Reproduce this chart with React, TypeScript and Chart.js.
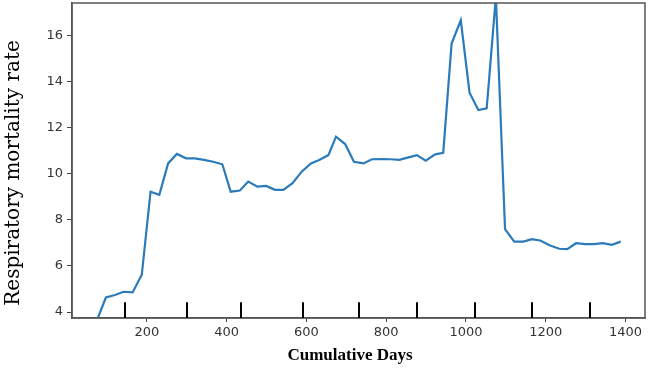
import React, { useEffect, useRef } from "react";
import { Chart, registerables } from "chart.js";

Chart.register(...registerables);

const days = [
  74, 97, 120, 141, 164, 187, 209, 231, 253, 275, 298, 320, 343, 366, 389, 410,
  433, 454, 477, 499, 521, 542, 565, 588, 611, 632, 655, 674, 697, 719, 743, 764,
  789, 811, 833, 856, 877, 899, 923, 943, 964, 987, 1009, 1031, 1052, 1075, 1098,
  1121, 1144, 1165, 1186, 1211, 1234, 1254, 1276, 1299, 1321, 1343, 1366, 1388,
];
const rate = [
  3.62, 4.63, 4.74, 4.88, 4.85, 5.62, 9.23, 9.09, 10.46, 10.87, 10.68, 10.68,
  10.61, 10.53, 10.42, 9.23, 9.28, 9.67, 9.45, 9.48, 9.31, 9.31, 9.6, 10.1,
  10.46, 10.61, 10.82, 11.62, 11.3, 10.53, 10.46, 10.64, 10.65, 10.64, 10.61,
  10.72, 10.82, 10.58, 10.85, 10.92, 15.67, 16.68, 13.53, 12.78, 12.85, 17.7,
  7.6, 7.06, 7.06, 7.17, 7.11, 6.89, 6.75, 6.73, 6.99, 6.95, 6.95, 6.99, 6.92,
  7.06,
];
const deciles = [144, 301, 437, 591, 733, 877, 1023, 1165, 1310];
const xTicks = [200, 400, 600, 800, 1000, 1200, 1400];
const yTicks = [4, 6, 8, 10, 12, 14, 16];

const xTitle = "Cumulative Days";
const yTitle = "Respiratory mortality rate";

const W = 649;
const H = 369;

const extrasPlugin = {
  id: "extras",
  afterDatasetsDraw(chart: any) {
    const { ctx, chartArea, scales } = chart;
    const xs = scales.x;
    const ys = scales.y;
    ctx.save();
    // frame
    ctx.strokeStyle = "#555";
    ctx.lineWidth = 1.5;
    ctx.strokeRect(chartArea.left, chartArea.top, chartArea.right - chartArea.left, chartArea.bottom - chartArea.top);
    // decile rug
    ctx.strokeStyle = "#000";
    ctx.lineWidth = 2;
    const y0 = ys.getPixelForValue(ys.min);
    const y1 = ys.getPixelForValue(ys.min + 0.05 * (ys.max - ys.min));
    deciles.forEach((d) => {
      const px = Math.round(xs.getPixelForValue(d));
      ctx.beginPath();
      ctx.moveTo(px, y0);
      ctx.lineTo(px, y1);
      ctx.stroke();
    });
    // titles
    ctx.fillStyle = "#000";
    ctx.textAlign = "center";
    ctx.textBaseline = "middle";
    ctx.font = 'bold 17px "Liberation Serif"';
    ctx.fillText(xTitle, 350, 356);
    ctx.translate(14, 173);
    ctx.rotate(-Math.PI / 2);
    ctx.font = '20px "DejaVu Serif"';
    ctx.fillText(yTitle, 0, 0);
    ctx.restore();
  },
};

export default function App() {
  const ref = useRef<HTMLCanvasElement>(null);
  useEffect(() => {
    if (!ref.current) return;
    const chart = new Chart(ref.current, {
      type: "line",
      data: {
        datasets: [
          {
            data: days.map((d, i) => ({ x: d, y: rate[i] })),
            borderColor: "#2b7bba",
            borderWidth: 2.2,
            pointRadius: 0,
            tension: 0,
            fill: false,
          },
        ],
      },
      options: {
        responsive: false,
        animation: false,
        layout: { padding: { top: 3, right: 4, left: 0, bottom: 0 } },
        plugins: { legend: { display: false }, tooltip: { enabled: false } },
        scales: {
          x: {
            type: "linear",
            min: 12,
            max: 1449,
            afterBuildTicks: (s: any) => {
              s.ticks = xTicks.map((v) => ({ value: v }));
            },
            afterFit: (s: any) => {
              s.height = 51;
              s.paddingLeft = 0;
              s.paddingRight = 0;
            },
            grid: { drawOnChartArea: false, drawTicks: true, tickLength: 4, color: "#444" },
            border: { display: true, color: "#555", width: 1.5 },
            ticks: {
              color: "#333",
              font: { family: "DejaVu Sans", size: 13 },
              padding: 3,
              maxRotation: 0,
              callback: (v: any) => String(v),
            },
          },
          y: {
            type: "linear",
            min: 3.74,
            max: 17.43,
            afterBuildTicks: (s: any) => {
              s.ticks = yTicks.map((v) => ({ value: v }));
            },
            afterFit: (s: any) => {
              s.width = 72;
              s.paddingTop = 0;
              s.paddingBottom = 0;
            },
            grid: { drawOnChartArea: false, drawTicks: true, tickLength: 5, color: "#444" },
            border: { display: true, color: "#555", width: 1.5 },
            ticks: {
              color: "#333",
              font: { family: "DejaVu Sans", size: 13 },
              padding: 4,
              callback: (v: any) => String(v),
            },
          },
        },
      },
      plugins: [extrasPlugin],
    });
    return () => chart.destroy();
  }, []);
  return (
    <div style={{ position: "absolute", left: 0, top: 0, width: W, height: H, background: "#fff" }}>
      <canvas ref={ref} width={W} height={H} style={{ display: "block" }} />
    </div>
  );
}
